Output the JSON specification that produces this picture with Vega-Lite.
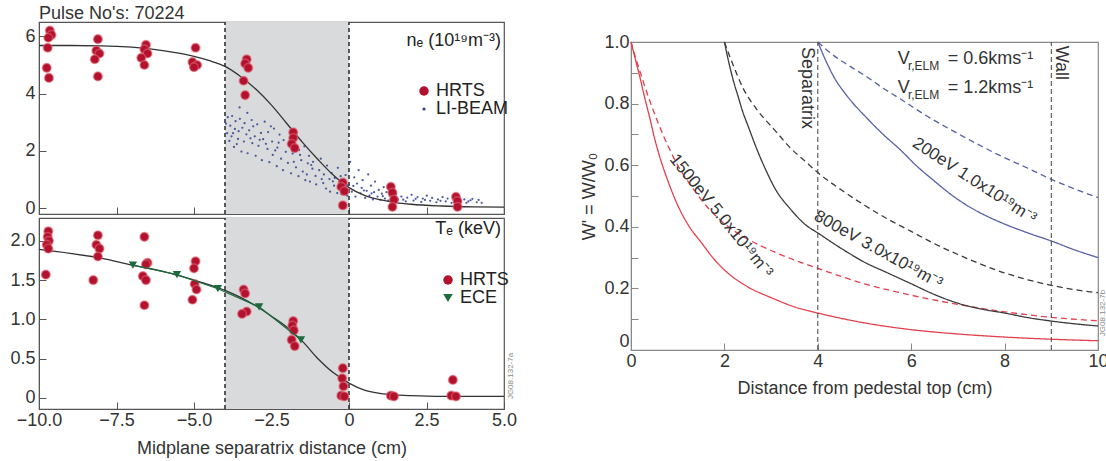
{
  "$schema": "https://vega.github.io/schema/vega-lite/v6.json",
  "background": "white",
  "padding": {"left": 9, "top": 4, "right": 0, "bottom": 0},
  "config": {
    "font": "Liberation Sans",
    "view": {"stroke": "#555", "strokeWidth": 1.2},
    "axis": {"labelFont": "Liberation Sans", "labelFontSize": 18, "labelColor": "#333", "titleFont": "Liberation Sans", "titleFontSize": 18, "titleFontWeight": "normal", "titleColor": "#333", "domainColor": "#555", "tickColor": "#555", "grid": false, "tickSize": -7, "labelPadding": 9, "labelFlush": false, "labelOverlap": false},
    "legend": {"labelFont": "Liberation Sans", "labelFontSize": 18, "labelColor": "#222", "padding": 0, "rowPadding": 0, "labelOffset": 3, "symbolOpacity": 1, "symbolStrokeWidth": 0},
    "text": {"font": "Liberation Sans", "color": "#333"}
  },
  "datasets": {
    "ne_hrts": [
      {"x": -9.65, "y": 6.2}, {"x": -9.6, "y": 6.05}, {"x": -9.7, "y": 5.95}, {"x": -9.72, "y": 5.6}, {"x": -9.75, "y": 4.9}, {"x": -9.68, "y": 4.55},
      {"x": -8.1, "y": 5.9}, {"x": -8.15, "y": 5.5}, {"x": -8.05, "y": 5.4}, {"x": -8.2, "y": 5.2}, {"x": -8.1, "y": 4.6},
      {"x": -6.55, "y": 5.7}, {"x": -6.6, "y": 5.55}, {"x": -6.5, "y": 5.4}, {"x": -6.7, "y": 5.25}, {"x": -6.6, "y": 5.0},
      {"x": -4.95, "y": 5.6}, {"x": -5.05, "y": 5.1}, {"x": -4.9, "y": 5.0}, {"x": -5.0, "y": 4.92},
      {"x": -3.3, "y": 5.2}, {"x": -3.35, "y": 5.05}, {"x": -3.25, "y": 4.9}, {"x": -3.4, "y": 4.45}, {"x": -3.35, "y": 3.95},
      {"x": -1.8, "y": 2.65}, {"x": -1.8, "y": 2.45}, {"x": -1.85, "y": 2.25}, {"x": -1.75, "y": 2.1},
      {"x": -0.2, "y": 0.9}, {"x": -0.25, "y": 0.75}, {"x": -0.15, "y": 0.6}, {"x": -0.2, "y": 0.1},
      {"x": 1.35, "y": 0.75}, {"x": 1.4, "y": 0.55}, {"x": 1.45, "y": 0.3}, {"x": 1.4, "y": 0.05},
      {"x": 3.45, "y": 0.4}, {"x": 3.5, "y": 0.25}, {"x": 3.5, "y": 0.05}
    ],
    "ne_li": [
      {"x": -3.97, "y": 2.95}, {"x": -3.93, "y": 2.62}, {"x": -3.91, "y": 3.18}, {"x": -3.86, "y": 2.35}, {"x": -3.83, "y": 2.88}, {"x": -3.79, "y": 2.51}, {"x": -3.77, "y": 3.22}, {"x": -3.71, "y": 2.14}, {"x": -3.68, "y": 2.77}, {"x": -3.66, "y": 3.04}, {"x": -3.58, "y": 2.42}, {"x": -3.56, "y": 2.69}, {"x": -3.52, "y": 3.12}, {"x": -3.47, "y": 1.98}, {"x": -3.44, "y": 2.81}, {"x": -3.39, "y": 2.33}, {"x": -3.37, "y": 2.97}, {"x": -3.31, "y": 2.58}, {"x": -3.27, "y": 1.92}, {"x": -3.22, "y": 2.72}, {"x": -3.14, "y": 3.08}, {"x": -3.12, "y": 2.27}, {"x": -3.04, "y": 2.51}, {"x": -3.01, "y": 1.83}, {"x": -3.53, "y": 3.52}, {"x": -3.28, "y": 3.33}, {"x": -3.74, "y": 2.62}, {"x": -3.62, "y": 2.24}, {"x": -3.18, "y": 2.44}, {"x": -3.09, "y": 2.86},
      {"x": -2.96, "y": 2.93}, {"x": -2.92, "y": 2.18}, {"x": -2.84, "y": 2.63}, {"x": -2.81, "y": 1.68}, {"x": -2.77, "y": 2.41}, {"x": -2.72, "y": 3.02}, {"x": -2.63, "y": 2.07}, {"x": -2.61, "y": 2.66}, {"x": -2.57, "y": 1.61}, {"x": -2.48, "y": 2.33}, {"x": -2.46, "y": 1.86}, {"x": -2.42, "y": 2.78}, {"x": -2.33, "y": 1.47}, {"x": -2.31, "y": 2.12}, {"x": -2.24, "y": 2.57}, {"x": -2.19, "y": 1.73}, {"x": -2.13, "y": 1.33}, {"x": -2.11, "y": 2.38}, {"x": -2.04, "y": 1.97}, {"x": -2.88, "y": 2.39}, {"x": -2.68, "y": 2.25}, {"x": -2.52, "y": 2.86}, {"x": -2.38, "y": 2.02}, {"x": -2.27, "y": 2.29},
      {"x": -1.97, "y": 1.58}, {"x": -1.91, "y": 2.27}, {"x": -1.87, "y": 1.22}, {"x": -1.82, "y": 1.91}, {"x": -1.74, "y": 2.47}, {"x": -1.71, "y": 1.43}, {"x": -1.63, "y": 1.12}, {"x": -1.61, "y": 2.03}, {"x": -1.54, "y": 1.68}, {"x": -1.49, "y": 1.28}, {"x": -1.44, "y": 2.16}, {"x": -1.41, "y": 0.98}, {"x": -1.33, "y": 1.57}, {"x": -1.29, "y": 1.83}, {"x": -1.26, "y": 0.93}, {"x": -1.18, "y": 1.38}, {"x": -1.16, "y": 1.62}, {"x": -1.08, "y": 1.13}, {"x": -1.06, "y": 0.83}, {"x": -1.78, "y": 1.62}, {"x": -1.58, "y": 1.86}, {"x": -1.36, "y": 1.18}, {"x": -1.22, "y": 1.51},
      {"x": -0.96, "y": 1.33}, {"x": -0.91, "y": 1.73}, {"x": -0.83, "y": 0.88}, {"x": -0.81, "y": 1.18}, {"x": -0.74, "y": 0.69}, {"x": -0.71, "y": 1.49}, {"x": -0.63, "y": 1.02}, {"x": -0.61, "y": 0.58}, {"x": -0.56, "y": 1.23}, {"x": -0.48, "y": 0.79}, {"x": -0.46, "y": 1.06}, {"x": -0.38, "y": 0.53}, {"x": -0.36, "y": 1.41}, {"x": -0.31, "y": 0.74}, {"x": -0.24, "y": 0.49}, {"x": -0.19, "y": 0.96}, {"x": -0.13, "y": 0.63}, {"x": -0.11, "y": 1.16}, {"x": -0.06, "y": 0.44}, {"x": -0.03, "y": 0.82}, {"x": -0.88, "y": 1.02}, {"x": -0.52, "y": 0.94}, {"x": -0.27, "y": 1.12},
      {"x": 0.04, "y": 1.62}, {"x": 0.09, "y": 0.58}, {"x": 0.17, "y": 1.08}, {"x": 0.21, "y": 0.41}, {"x": 0.26, "y": 0.86}, {"x": 0.31, "y": 1.33}, {"x": 0.37, "y": 0.52}, {"x": 0.41, "y": 0.71}, {"x": 0.44, "y": 0.98}, {"x": 0.52, "y": 0.36}, {"x": 0.57, "y": 0.61}, {"x": 0.62, "y": 1.18}, {"x": 0.66, "y": 0.44}, {"x": 0.71, "y": 0.79}, {"x": 0.77, "y": 0.31}, {"x": 0.81, "y": 0.56}, {"x": 0.84, "y": 0.93}, {"x": 0.92, "y": 0.41}, {"x": 0.96, "y": 0.64}, {"x": 1.02, "y": 0.29}, {"x": 1.06, "y": 0.51}, {"x": 1.12, "y": 0.74}, {"x": 1.16, "y": 0.34}, {"x": 1.21, "y": 0.56}, {"x": 1.27, "y": 0.27}, {"x": 1.31, "y": 0.44}, {"x": 1.34, "y": 0.61}, {"x": 1.42, "y": 0.31}, {"x": 1.47, "y": 0.39}, {"x": 0.14, "y": 0.78}, {"x": 0.48, "y": 0.62}, {"x": 0.73, "y": 0.52}, {"x": 1.09, "y": 0.42},
      {"x": 1.52, "y": 0.49}, {"x": 1.58, "y": 0.31}, {"x": 1.69, "y": 0.41}, {"x": 1.83, "y": 0.24}, {"x": 1.88, "y": 0.37}, {"x": 2.02, "y": 0.47}, {"x": 2.08, "y": 0.27}, {"x": 2.21, "y": 0.39}, {"x": 2.33, "y": 0.22}, {"x": 2.38, "y": 0.34}, {"x": 2.51, "y": 0.44}, {"x": 2.62, "y": 0.26}, {"x": 2.68, "y": 0.36}, {"x": 2.82, "y": 0.21}, {"x": 2.87, "y": 0.31}, {"x": 3.02, "y": 0.39}, {"x": 3.12, "y": 0.24}, {"x": 3.18, "y": 0.34}, {"x": 3.31, "y": 0.19}, {"x": 3.38, "y": 0.29}, {"x": 3.52, "y": 0.36}, {"x": 3.58, "y": 0.23}, {"x": 3.72, "y": 0.31}, {"x": 3.79, "y": 0.19}, {"x": 3.92, "y": 0.28}, {"x": 3.98, "y": 0.33}, {"x": 4.12, "y": 0.21}, {"x": 4.18, "y": 0.29}, {"x": 4.28, "y": 0.19}, {"x": 1.75, "y": 0.3}, {"x": 2.15, "y": 0.33}, {"x": 2.45, "y": 0.29}, {"x": 2.95, "y": 0.26}, {"x": 3.45, "y": 0.25}, {"x": 3.85, "y": 0.24}
    ],
    "ne_fit": [
      {"x": -10, "y": 5.68}, {"x": -9, "y": 5.68}, {"x": -8, "y": 5.67}, {"x": -7, "y": 5.62}, {"x": -6, "y": 5.5}, {"x": -5, "y": 5.3}, {"x": -4.5, "y": 5.15}, {"x": -4, "y": 4.95}, {"x": -3.5, "y": 4.6}, {"x": -3, "y": 4.15}, {"x": -2.5, "y": 3.6}, {"x": -2, "y": 2.95}, {"x": -1.5, "y": 2.3}, {"x": -1, "y": 1.7}, {"x": -0.5, "y": 1.15}, {"x": 0, "y": 0.72}, {"x": 0.5, "y": 0.45}, {"x": 1, "y": 0.3}, {"x": 1.5, "y": 0.2}, {"x": 2, "y": 0.14}, {"x": 3, "y": 0.08}, {"x": 4, "y": 0.05}, {"x": 5, "y": 0.04}
    ],
    "te_hrts": [
      {"x": -9.7, "y": 2.12}, {"x": -9.72, "y": 2.05}, {"x": -9.68, "y": 2.0}, {"x": -9.75, "y": 1.95}, {"x": -9.7, "y": 1.9}, {"x": -9.78, "y": 1.57},
      {"x": -8.1, "y": 2.07}, {"x": -8.15, "y": 1.95}, {"x": -8.05, "y": 1.9}, {"x": -8.1, "y": 1.8}, {"x": -8.25, "y": 1.5},
      {"x": -6.6, "y": 2.05}, {"x": -6.5, "y": 1.72}, {"x": -6.55, "y": 1.7}, {"x": -6.65, "y": 1.55}, {"x": -6.55, "y": 1.5}, {"x": -6.6, "y": 1.18},
      {"x": -4.95, "y": 1.74}, {"x": -5.0, "y": 1.65}, {"x": -4.98, "y": 1.45}, {"x": -4.92, "y": 1.38}, {"x": -5.05, "y": 1.25},
      {"x": -3.4, "y": 1.38}, {"x": -3.35, "y": 1.33}, {"x": -3.3, "y": 1.1}, {"x": -3.45, "y": 1.07},
      {"x": -1.8, "y": 0.98}, {"x": -1.83, "y": 0.92}, {"x": -1.78, "y": 0.86}, {"x": -1.85, "y": 0.74}, {"x": -1.75, "y": 0.66},
      {"x": -0.2, "y": 0.38}, {"x": -0.22, "y": 0.25}, {"x": -0.18, "y": 0.15}, {"x": -0.25, "y": 0.03}, {"x": -0.15, "y": 0.02},
      {"x": 1.35, "y": 0.03}, {"x": 1.45, "y": 0.02},
      {"x": 3.35, "y": 0.23}, {"x": 3.3, "y": 0.03}, {"x": 3.45, "y": 0.02}
    ],
    "te_ece": [
      {"x": -6.97, "y": 1.69}, {"x": -5.55, "y": 1.57}, {"x": -4.23, "y": 1.39}, {"x": -2.9, "y": 1.16}, {"x": -1.55, "y": 0.74}
    ],
    "te_fit": [
      {"x": -10, "y": 1.89}, {"x": -9, "y": 1.84}, {"x": -8, "y": 1.78}, {"x": -7, "y": 1.69}, {"x": -6, "y": 1.61}, {"x": -5, "y": 1.5}, {"x": -4.5, "y": 1.44}, {"x": -4, "y": 1.37}, {"x": -3.5, "y": 1.28}, {"x": -3, "y": 1.17}, {"x": -2.5, "y": 1.04}, {"x": -2, "y": 0.9}, {"x": -1.5, "y": 0.72}, {"x": -1, "y": 0.5}, {"x": -0.5, "y": 0.32}, {"x": 0, "y": 0.19}, {"x": 0.5, "y": 0.1}, {"x": 1, "y": 0.06}, {"x": 1.5, "y": 0.04}, {"x": 2, "y": 0.03}, {"x": 3, "y": 0.02}, {"x": 4, "y": 0.02}, {"x": 5, "y": 0.02}
    ],
    "right": [
      {"x": 0, "w": 1.0, "c": "1500", "v": "0.6"}, {"x": 0.1, "w": 0.94, "c": "1500", "v": "0.6"}, {"x": 0.2, "w": 0.88, "c": "1500", "v": "0.6"}, {"x": 0.3, "w": 0.815, "c": "1500", "v": "0.6"}, {"x": 0.4, "w": 0.755, "c": "1500", "v": "0.6"}, {"x": 0.5, "w": 0.69, "c": "1500", "v": "0.6"}, {"x": 0.6, "w": 0.635, "c": "1500", "v": "0.6"}, {"x": 0.8, "w": 0.545, "c": "1500", "v": "0.6"}, {"x": 1.0, "w": 0.47, "c": "1500", "v": "0.6"}, {"x": 1.25, "w": 0.4, "c": "1500", "v": "0.6"}, {"x": 1.5, "w": 0.35, "c": "1500", "v": "0.6"}, {"x": 1.75, "w": 0.3, "c": "1500", "v": "0.6"}, {"x": 2.0, "w": 0.26, "c": "1500", "v": "0.6"}, {"x": 2.5, "w": 0.205, "c": "1500", "v": "0.6"}, {"x": 3.0, "w": 0.17, "c": "1500", "v": "0.6"}, {"x": 3.5, "w": 0.14, "c": "1500", "v": "0.6"}, {"x": 4.0, "w": 0.12, "c": "1500", "v": "0.6"}, {"x": 5.0, "w": 0.088, "c": "1500", "v": "0.6"}, {"x": 6.0, "w": 0.066, "c": "1500", "v": "0.6"}, {"x": 7.0, "w": 0.052, "c": "1500", "v": "0.6"}, {"x": 8.0, "w": 0.042, "c": "1500", "v": "0.6"}, {"x": 9.0, "w": 0.035, "c": "1500", "v": "0.6"}, {"x": 10, "w": 0.03, "c": "1500", "v": "0.6"},
      {"x": 0, "w": 1.0, "c": "1500", "v": "1.2"}, {"x": 0.2, "w": 0.9, "c": "1500", "v": "1.2"}, {"x": 0.4, "w": 0.81, "c": "1500", "v": "1.2"}, {"x": 0.6, "w": 0.73, "c": "1500", "v": "1.2"}, {"x": 0.8, "w": 0.66, "c": "1500", "v": "1.2"}, {"x": 1.0, "w": 0.6, "c": "1500", "v": "1.2"}, {"x": 1.3, "w": 0.53, "c": "1500", "v": "1.2"}, {"x": 1.6, "w": 0.47, "c": "1500", "v": "1.2"}, {"x": 2.0, "w": 0.41, "c": "1500", "v": "1.2"}, {"x": 2.5, "w": 0.36, "c": "1500", "v": "1.2"}, {"x": 3.0, "w": 0.323, "c": "1500", "v": "1.2"}, {"x": 3.5, "w": 0.292, "c": "1500", "v": "1.2"}, {"x": 4.0, "w": 0.265, "c": "1500", "v": "1.2"}, {"x": 5.0, "w": 0.215, "c": "1500", "v": "1.2"}, {"x": 6.0, "w": 0.178, "c": "1500", "v": "1.2"}, {"x": 7.0, "w": 0.148, "c": "1500", "v": "1.2"}, {"x": 8.0, "w": 0.124, "c": "1500", "v": "1.2"}, {"x": 9.0, "w": 0.106, "c": "1500", "v": "1.2"}, {"x": 10, "w": 0.095, "c": "1500", "v": "1.2"},
      {"x": 2.0, "w": 1.0, "c": "800", "v": "0.6"}, {"x": 2.1, "w": 0.93, "c": "800", "v": "0.6"}, {"x": 2.2, "w": 0.87, "c": "800", "v": "0.6"}, {"x": 2.3, "w": 0.82, "c": "800", "v": "0.6"}, {"x": 2.4, "w": 0.77, "c": "800", "v": "0.6"}, {"x": 2.5, "w": 0.73, "c": "800", "v": "0.6"}, {"x": 2.7, "w": 0.65, "c": "800", "v": "0.6"}, {"x": 2.9, "w": 0.58, "c": "800", "v": "0.6"}, {"x": 3.1, "w": 0.52, "c": "800", "v": "0.6"}, {"x": 3.4, "w": 0.46, "c": "800", "v": "0.6"}, {"x": 3.75, "w": 0.405, "c": "800", "v": "0.6"}, {"x": 4.0, "w": 0.38, "c": "800", "v": "0.6"}, {"x": 4.5, "w": 0.33, "c": "800", "v": "0.6"}, {"x": 5.0, "w": 0.285, "c": "800", "v": "0.6"}, {"x": 5.5, "w": 0.25, "c": "800", "v": "0.6"}, {"x": 6.0, "w": 0.215, "c": "800", "v": "0.6"}, {"x": 6.5, "w": 0.18, "c": "800", "v": "0.6"}, {"x": 7.0, "w": 0.152, "c": "800", "v": "0.6"}, {"x": 7.5, "w": 0.133, "c": "800", "v": "0.6"}, {"x": 8.0, "w": 0.12, "c": "800", "v": "0.6"}, {"x": 8.5, "w": 0.105, "c": "800", "v": "0.6"}, {"x": 9.0, "w": 0.094, "c": "800", "v": "0.6"}, {"x": 9.5, "w": 0.085, "c": "800", "v": "0.6"}, {"x": 10, "w": 0.078, "c": "800", "v": "0.6"},
      {"x": 2.0, "w": 1.0, "c": "800", "v": "1.2"}, {"x": 2.2, "w": 0.92, "c": "800", "v": "1.2"}, {"x": 2.4, "w": 0.85, "c": "800", "v": "1.2"}, {"x": 2.7, "w": 0.78, "c": "800", "v": "1.2"}, {"x": 3.1, "w": 0.71, "c": "800", "v": "1.2"}, {"x": 3.4, "w": 0.658, "c": "800", "v": "1.2"}, {"x": 3.75, "w": 0.61, "c": "800", "v": "1.2"}, {"x": 4.0, "w": 0.576, "c": "800", "v": "1.2"}, {"x": 4.5, "w": 0.52, "c": "800", "v": "1.2"}, {"x": 5.0, "w": 0.47, "c": "800", "v": "1.2"}, {"x": 5.5, "w": 0.425, "c": "800", "v": "1.2"}, {"x": 6.0, "w": 0.385, "c": "800", "v": "1.2"}, {"x": 6.5, "w": 0.345, "c": "800", "v": "1.2"}, {"x": 7.0, "w": 0.31, "c": "800", "v": "1.2"}, {"x": 7.5, "w": 0.278, "c": "800", "v": "1.2"}, {"x": 8.0, "w": 0.25, "c": "800", "v": "1.2"}, {"x": 8.5, "w": 0.228, "c": "800", "v": "1.2"}, {"x": 9.0, "w": 0.21, "c": "800", "v": "1.2"}, {"x": 9.5, "w": 0.196, "c": "800", "v": "1.2"}, {"x": 10, "w": 0.186, "c": "800", "v": "1.2"},
      {"x": 4.0, "w": 1.0, "c": "200", "v": "0.6"}, {"x": 4.2, "w": 0.93, "c": "200", "v": "0.6"}, {"x": 4.35, "w": 0.885, "c": "200", "v": "0.6"}, {"x": 4.6, "w": 0.83, "c": "200", "v": "0.6"}, {"x": 5.07, "w": 0.75, "c": "200", "v": "0.6"}, {"x": 5.4, "w": 0.7, "c": "200", "v": "0.6"}, {"x": 5.78, "w": 0.648, "c": "200", "v": "0.6"}, {"x": 6.1, "w": 0.6, "c": "200", "v": "0.6"}, {"x": 6.5, "w": 0.548, "c": "200", "v": "0.6"}, {"x": 6.85, "w": 0.505, "c": "200", "v": "0.6"}, {"x": 7.21, "w": 0.468, "c": "200", "v": "0.6"}, {"x": 7.6, "w": 0.436, "c": "200", "v": "0.6"}, {"x": 7.92, "w": 0.414, "c": "200", "v": "0.6"}, {"x": 8.5, "w": 0.38, "c": "200", "v": "0.6"}, {"x": 9.0, "w": 0.354, "c": "200", "v": "0.6"}, {"x": 9.5, "w": 0.325, "c": "200", "v": "0.6"}, {"x": 10, "w": 0.3, "c": "200", "v": "0.6"},
      {"x": 4.0, "w": 1.0, "c": "200", "v": "1.2"}, {"x": 4.35, "w": 0.955, "c": "200", "v": "1.2"}, {"x": 4.7, "w": 0.92, "c": "200", "v": "1.2"}, {"x": 5.07, "w": 0.885, "c": "200", "v": "1.2"}, {"x": 5.4, "w": 0.85, "c": "200", "v": "1.2"}, {"x": 5.78, "w": 0.814, "c": "200", "v": "1.2"}, {"x": 6.3, "w": 0.763, "c": "200", "v": "1.2"}, {"x": 6.85, "w": 0.715, "c": "200", "v": "1.2"}, {"x": 7.4, "w": 0.67, "c": "200", "v": "1.2"}, {"x": 7.92, "w": 0.63, "c": "200", "v": "1.2"}, {"x": 8.5, "w": 0.59, "c": "200", "v": "1.2"}, {"x": 9.0, "w": 0.554, "c": "200", "v": "1.2"}, {"x": 9.5, "w": 0.523, "c": "200", "v": "1.2"}, {"x": 10, "w": 0.495, "c": "200", "v": "1.2"}
    ]
  },
  "hconcat": [
    {
      "vconcat": [
        {
          "width": 465, "height": 192,
          "title": {"text": "Pulse No's: 70224", "anchor": "start", "frame": "group", "fontSize": 18, "fontWeight": "normal", "color": "#333", "offset": -2},
          "encoding": {
            "x": {"field": "x", "type": "quantitative", "scale": {"domain": [-10, 5], "nice": false, "zero": false},
                  "axis": {"values": [-10, -7.5, -5, -2.5, 0, 2.5, 5], "labels": false, "title": null}},
            "y": {"field": "y", "type": "quantitative", "scale": {"domain": [-0.2, 6.5], "nice": false, "zero": false},
                  "axis": {"values": [0, 2, 4, 6], "title": null, "labelPadding": 11}}
          },
          "layer": [
            {"data": {"values": [{"x": -4, "x2": 0, "y": -0.2, "y2": 6.5}]}, "mark": {"type": "rect", "color": "#d9dadc"},
             "encoding": {"x2": {"field": "x2"}, "y2": {"field": "y2"}}},
            {"data": {"values": [{"x": -4, "y": -0.2, "y2": 6.5}, {"x": 0, "y": -0.2, "y2": 6.5}]}, "mark": {"type": "rule", "color": "#333", "strokeDash": [4, 3], "strokeWidth": 1.6},
             "encoding": {"y2": {"field": "y2"}}},
            {"data": {"name": "ne_li"}, "mark": {"type": "circle", "opacity": 0.85},
             "encoding": {"size": {"value": 5},
                          "color": {"datum": "LI-BEAM", "type": "nominal", "scale": {"domain": ["HRTS", "LI-BEAM"], "range": ["#b3122e", "#2f3f8f"]},
                                    "legend": {"title": null, "orient": "none", "legendX": 376, "legendY": 60, "labelFontSize": 18,
                                               "encode": {"symbols": {"update": {"size": {"signal": "datum.value === 'LI-BEAM' ? 10 : 90"}}}}}}}},
            {"data": {"name": "ne_fit"}, "mark": {"type": "line", "color": "#333", "strokeWidth": 1.3, "interpolate": "monotone"}},
            {"data": {"name": "ne_hrts"}, "mark": {"type": "circle", "opacity": 1, "stroke": "#e06070", "strokeWidth": 1.5, "strokeOpacity": 0.6},
             "encoding": {"size": {"value": 75}, "color": {"datum": "HRTS", "type": "nominal"}}},
            {"data": {"values": [{"x": 4.9, "y": 5.85, "t": "nₑ (10¹⁹m⁻³)"}]}, "mark": {"type": "text", "align": "right", "baseline": "middle", "fontSize": 18, "color": "#222"},
             "encoding": {"text": {"field": "t"}}}
          ]
        },
        {
          "width": 465, "height": 191,
          "encoding": {
            "x": {"field": "x", "type": "quantitative", "scale": {"domain": [-10, 5], "nice": false, "zero": false},
                  "axis": {"values": [-10, -7.5, -5, -2.5, 0, 2.5, 5], "labelExpr": "datum.value == 0 ? '0' : format(datum.value, '.1f')", "title": "Midplane separatrix distance (cm)", "titlePadding": 10}},
            "y": {"field": "y", "type": "quantitative", "scale": {"domain": [-0.14, 2.29], "nice": false, "zero": false},
                  "axis": {"values": [0, 0.5, 1, 1.5, 2], "labelExpr": "datum.value == 0 ? '0' : format(datum.value, '.1f')", "title": null, "labelPadding": 11}}
          },
          "layer": [
            {"data": {"values": [{"x": -4, "x2": 0, "y": -0.14, "y2": 2.29}]}, "mark": {"type": "rect", "color": "#d9dadc"},
             "encoding": {"x2": {"field": "x2"}, "y2": {"field": "y2"}}},
            {"data": {"values": [{"x": -4, "y": -0.14, "y2": 2.29}, {"x": 0, "y": -0.14, "y2": 2.29}]}, "mark": {"type": "rule", "color": "#333", "strokeDash": [4, 3], "strokeWidth": 1.6},
             "encoding": {"y2": {"field": "y2"}}},
            {"data": {"name": "te_fit"}, "mark": {"type": "line", "color": "#333", "strokeWidth": 1.3, "interpolate": "monotone"}},
            {"data": {"name": "te_hrts"}, "mark": {"type": "point", "filled": true, "opacity": 1, "stroke": "#e06070", "strokeWidth": 1.5, "strokeOpacity": 0.6},
             "encoding": {"size": {"value": 75},
                          "color": {"datum": "HRTS", "type": "nominal", "scale": {"domain": ["HRTS", "ECE"], "range": ["#b3122e", "#1b6b3c"]},
                                    "legend": {"title": null, "orient": "none", "legendX": 400, "legendY": 53, "labelFontSize": 18, "symbolSize": 90}},
                          "shape": {"datum": "HRTS", "type": "nominal", "scale": {"domain": ["HRTS", "ECE"], "range": ["circle", "triangle-down"]},
                                    "legend": {"title": null, "orient": "none", "legendX": 400, "legendY": 53, "labelFontSize": 18, "symbolSize": 90}}}},
            {"data": {"name": "te_ece"}, "mark": {"type": "line", "color": "#1b6b3c", "strokeWidth": 1.3}},
            {"data": {"name": "te_ece"}, "mark": {"type": "point", "filled": true, "opacity": 1, "size": 70},
             "encoding": {"color": {"datum": "ECE", "type": "nominal"}, "shape": {"datum": "ECE", "type": "nominal"}}},
            {"data": {"values": [{"x": 4.9, "y": 2.15, "t": "Tₑ (keV)"}]}, "mark": {"type": "text", "align": "right", "baseline": "middle", "fontSize": 18, "color": "#222"},
             "encoding": {"text": {"field": "t"}}},
            {"data": {"values": [{"x": 5.24, "y": 0.28, "t": "JG08.132-7a"}]}, "mark": {"type": "text", "align": "center", "baseline": "middle", "fontSize": 8, "angle": 270, "color": "#888"},
             "encoding": {"text": {"field": "t"}}}
          ]
        }
      ],
      "spacing": -4,
      "resolve": {"scale": {"color": "independent", "shape": "independent", "x": "independent", "y": "independent"}, "legend": {"color": "independent", "shape": "independent"}}
    },
    {
      "vconcat": [
        {
          "width": 467, "height": 10,
          "data": {"values": [{}]},
          "mark": {"type": "point", "opacity": 0},
          "encoding": {},
          "view": {"stroke": null}
        },
        {
          "width": 467, "height": 308,
          "view": {"stroke": "#888"},
          "encoding": {
            "x": {"field": "x", "type": "quantitative", "scale": {"domain": [0, 10], "nice": false},
                  "axis": {"values": [0, 2, 4, 6, 8, 10], "title": "Distance from pedestal top (cm)", "titlePadding": 9, "domainColor": "#888", "tickColor": "#888"}},
            "y": {"field": "w", "type": "quantitative", "scale": {"domain": [0, 1], "nice": false},
                  "axis": {"values": [0, 0.1, 0.2, 0.3, 0.4, 0.5, 0.6, 0.7, 0.8, 0.9, 1.0], "labelExpr": "datum.value == 0 ? '0' : (round(datum.value * 10) % 2 == 0 ? format(datum.value, '.1f') : '')", "labelBaseline": {"condition": {"test": "datum.value == 0", "value": "bottom"}, "value": "middle"}, "title": "W' = W/W₀", "titlePadding": 5, "domainColor": "#888", "tickColor": "#888"}}
          },
          "layer": [
            {"data": {"name": "right"}, "mark": {"type": "line", "strokeWidth": 1.3, "interpolate": "monotone"},
             "encoding": {
               "color": {"field": "c", "type": "nominal", "scale": {"domain": ["1500", "800", "200"], "range": ["#e2404c", "#3a3a3a", "#5660a6"]}, "legend": null},
               "strokeDash": {"field": "v", "type": "nominal", "scale": {"domain": ["0.6", "1.2"], "range": [[1, 0], [6, 4]]}, "legend": null}}},
            {"data": {"values": [{"x": 4, "w": 0, "w2": 1}, {"x": 9, "w": 0, "w2": 1}]}, "mark": {"type": "rule", "color": "#444", "strokeDash": [5, 3], "strokeWidth": 1},
             "encoding": {"y2": {"field": "w2"}}},
            {"data": {"values": [{"x": 1.78, "w": 0.417, "t": "1500eV 5.0x10¹⁹m⁻³"}]}, "mark": {"type": "text", "angle": 51, "align": "center", "baseline": "bottom", "fontSize": 17, "color": "#333"},
             "encoding": {"text": {"field": "t"}}},
            {"data": {"values": [{"x": 5.2, "w": 0.3, "t": "800eV 3.0x10¹⁹m⁻³"}]}, "mark": {"type": "text", "angle": 29, "align": "center", "baseline": "bottom", "fontSize": 17, "color": "#333"},
             "encoding": {"text": {"field": "t"}}},
            {"data": {"values": [{"x": 7.25, "w": 0.525, "t": "200eV 1.0x10¹⁹m⁻³"}]}, "mark": {"type": "text", "angle": 33, "align": "center", "baseline": "bottom", "fontSize": 17, "color": "#333"},
             "encoding": {"text": {"field": "t"}}},
            {"data": {"values": [{"x": 3.77, "w": 0.851, "t": "Separatrix"}, {"x": 9.21, "w": 0.932, "t": "Wall"}]}, "mark": {"type": "text", "angle": 90, "align": "center", "baseline": "middle", "fontSize": 18, "color": "#333"},
             "encoding": {"text": {"field": "t"}}},
            {"data": {"values": [{"x": 5.71, "w": 0.944, "t": "V"}, {"x": 6.78, "w": 0.944, "t": "= 0.6kms⁻¹"}, {"x": 5.71, "w": 0.851, "t": "V"}, {"x": 6.78, "w": 0.851, "t": "= 1.2kms⁻¹"}]}, "mark": {"type": "text", "align": "left", "baseline": "middle", "fontSize": 18, "color": "#333"},
             "encoding": {"text": {"field": "t"}}},
            {"data": {"values": [{"x": 5.93, "w": 0.922, "t": "r,ELM"}, {"x": 5.93, "w": 0.829, "t": "r,ELM"}]}, "mark": {"type": "text", "align": "left", "baseline": "middle", "fontSize": 12, "color": "#333"},
             "encoding": {"text": {"field": "t"}}},
            {"data": {"values": [{"x": 10.1, "w": 0.12, "t": "JG08.132-7b"}]}, "mark": {"type": "text", "align": "center", "baseline": "middle", "fontSize": 8, "angle": 270, "color": "#888"},
             "encoding": {"text": {"field": "t"}}}
          ]
        }
      ],
      "spacing": 0
    }
  ],
  "spacing": 62,
  "resolve": {"scale": {"color": "independent", "shape": "independent", "x": "independent", "y": "independent", "strokeDash": "independent"}, "legend": {"color": "independent", "shape": "independent"}}
}
